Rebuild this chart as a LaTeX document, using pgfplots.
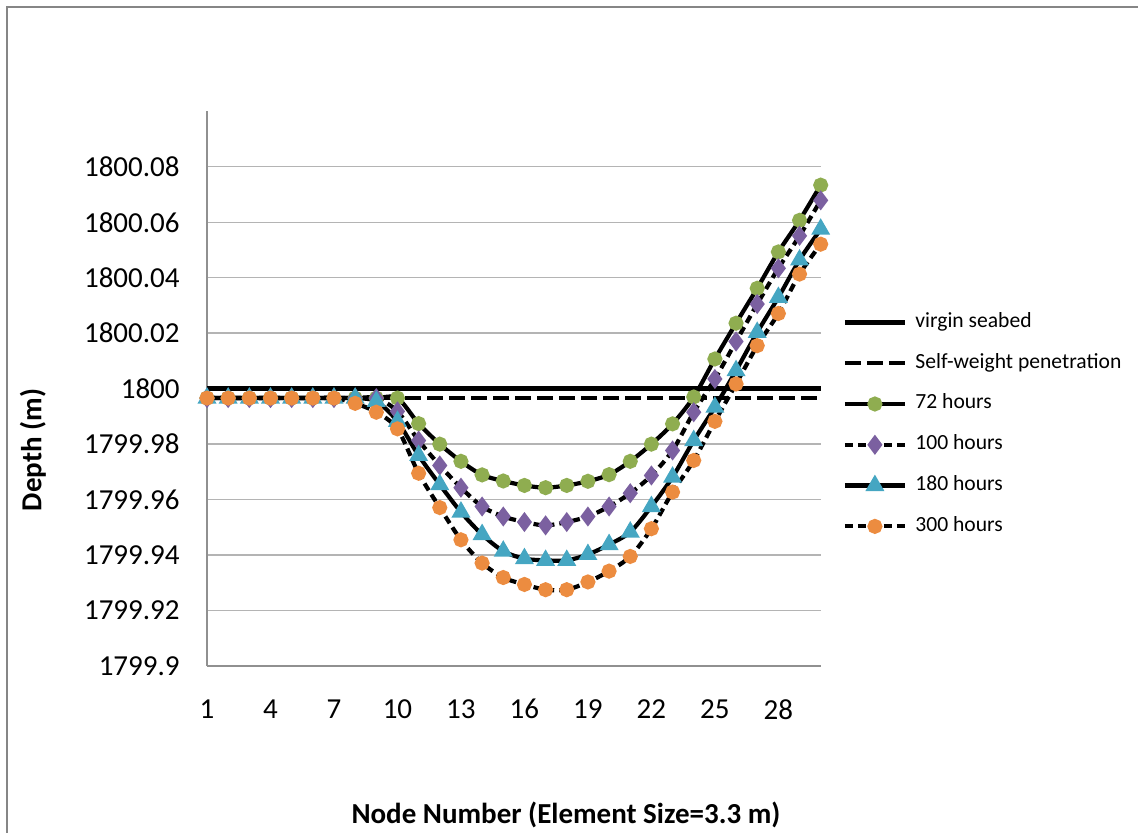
\documentclass[border=0pt]{standalone}
\usepackage{pgfplots}
\usepackage{pgfplotstable}
\pgfplotsset{compat=1.18}
\usepackage{fontspec}
\setmainfont{Carlito}
\definecolor{cgreen}{HTML}{8FAD50}
\definecolor{cpurple}{HTML}{7B60A0}
\definecolor{cblue}{HTML}{45A6C2}
\definecolor{corange}{HTML}{EC8C40}
\definecolor{frame}{RGB}{134,134,134}
\definecolor{gridc}{RGB}{180,180,180}

\pgfplotstableread{
node t72 t100 t180 t300
1 1799.9966 1799.9966 1799.9966 1799.9966
2 1799.9966 1799.9966 1799.9966 1799.9966
3 1799.9966 1799.9966 1799.9966 1799.9966
4 1799.9966 1799.9966 1799.9966 1799.9966
5 1799.9966 1799.9966 1799.9966 1799.9966
6 1799.9966 1799.9966 1799.9966 1799.9966
7 1799.9966 1799.9966 1799.9966 1799.9966
8 1799.9966 1799.9966 1799.9966 1799.9947
9 1799.9966 1799.9966 1799.9954 1799.9915
10 1799.9966 1799.9918 1799.9882 1799.9855
11 1799.9874 1799.9813 1799.9759 1799.9695
12 1799.9800 1799.9723 1799.9654 1799.9571
13 1799.9738 1799.9643 1799.9555 1799.9455
14 1799.9689 1799.9575 1799.9474 1799.9371
15 1799.9667 1799.9539 1799.9414 1799.9319
16 1799.9651 1799.9519 1799.9387 1799.9294
17 1799.9643 1799.9507 1799.9381 1799.9275
18 1799.9651 1799.9519 1799.9381 1799.9275
19 1799.9666 1799.9539 1799.9402 1799.9303
20 1799.9690 1799.9575 1799.9438 1799.9342
21 1799.9738 1799.9623 1799.9483 1799.9395
22 1799.9800 1799.9687 1799.9575 1799.9495
23 1799.9873 1799.9777 1799.9681 1799.9627
24 1799.9970 1799.9915 1799.9813 1799.9741
25 1800.0107 1800.0035 1799.9933 1799.9882
26 1800.0236 1800.0170 1800.0065 1800.0017
27 1800.0362 1800.0305 1800.0203 1800.0155
28 1800.0493 1800.0434 1800.0329 1800.0271
29 1800.0607 1800.0551 1800.0464 1800.0413
30 1800.0734 1800.0679 1800.0575 1800.0521
}\datatable

\begin{document}
\begin{tikzpicture}
\useasboundingbox (0pt,0pt) rectangle (569pt,-416.5pt);
\draw[frame, line width=1pt] (3.5pt,-420pt) -- (3.5pt,-3.5pt) -- (575pt,-3.5pt);
\begin{axis}[
  at={(103.5pt,-333pt)}, anchor=south west,
  scale only axis, width=306.85pt, height=277.35pt,
  xmin=1, xmax=30, ymin=1799.9, ymax=1800.1,
  clip=false,
  axis x line*=bottom, axis y line*=left,
  axis line style={gridc!80!black, line width=0.7pt, -},
  major tick length=0pt,
  xtick={1,4,7,10,13,16,19,22,25,28},
  xticklabels={1,4,7,10,13,16,19,22,25,28},
  ytick={1799.9,1799.92,1799.94,1799.96,1799.98,1800,1800.02,1800.04,1800.06,1800.08},
  yticklabels={1799.9,1799.92,1799.94,1799.96,1799.98,1800,1800.02,1800.04,1800.06,1800.08},
  ticklabel style={font=\fontsize{14.5}{17}\selectfont, inner sep=0pt},
  xticklabel style={anchor=north, yshift=-16.5pt},
  yticklabel style={anchor=east, xshift=-13.5pt},
  ymajorgrids, grid style={gridc, line width=0.7pt},
  xlabel={Node Number (Element Size=3.3 m)},
  ylabel={Depth (m)},
  label style={font=\bfseries\fontsize{14.5}{17}\selectfont},
  xlabel style={at={(axis description cs:0.5849,-0.2686)}, anchor=center},
  ylabel style={at={(axis description cs:-0.2837,0.3894)}, anchor=center},
  legend image code/.code={\draw[mark repeat=2,mark phase=2,#1] plot coordinates {(0pt,0pt)(15pt,0pt)(30pt,0pt)};},
  legend style={at={(axis description cs:1.0347,0.6382)}, anchor=north west,
    draw=none, fill=none, inner sep=0pt, row sep=10.4pt,
    font=\fontsize{10.8}{12}\selectfont,
    nodes={inner sep=0pt, text height=7.5pt, text depth=2.5pt},
    /tikz/every odd column/.append style={column sep=4pt}},
  legend cell align=left,
]
\addplot[black, line width=2.5pt, mark=none] coordinates {(1,1800) (30,1800)};
\addlegendentry{virgin seabed}
\addplot[black, line width=1.8pt, dash pattern=on 8pt off 3pt, mark=none] coordinates {(1,1799.9966) (30,1799.9966)};
\addlegendentry{Self-weight penetration}
\addplot[black, line width=2.1pt, smooth, mark=*, mark size=2.7pt, mark options={solid, draw=cgreen, fill=cgreen}] table[x=node, y=t72] {\datatable};
\addlegendentry{72 hours}
\addplot[black, line width=2.1pt, smooth, dash pattern=on 4pt off 2.5pt, mark=diamond*, mark size=3.3pt, mark options={solid, draw=cpurple, fill=cpurple}] table[x=node, y=t100] {\datatable};
\addlegendentry{100 hours}
\addplot[black, line width=2.1pt, smooth, mark=triangle*, mark size=3.4pt, mark options={solid, draw=cblue, fill=cblue}] table[x=node, y=t180] {\datatable};
\addlegendentry{180 hours}
\addplot[black, line width=2.1pt, smooth, dash pattern=on 4pt off 2.5pt, mark=*, mark size=2.7pt, mark options={solid, draw=corange, fill=corange}] table[x=node, y=t300] {\datatable};
\addlegendentry{300 hours}
\end{axis}
\end{tikzpicture}
\end{document}
